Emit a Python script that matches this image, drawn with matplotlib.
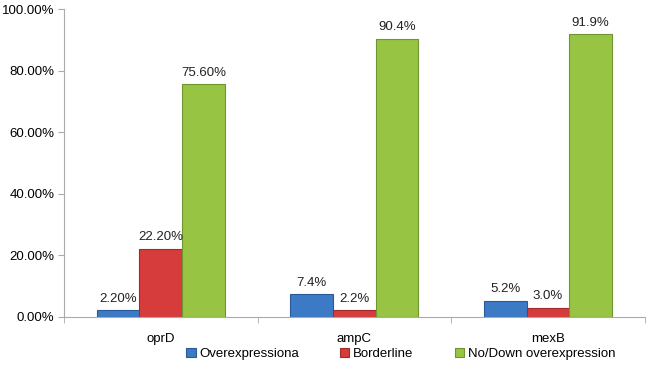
import matplotlib
matplotlib.use('Agg')
import matplotlib.pyplot as plt
import numpy as np

genes = ['oprD', 'ampC', 'mexB']
series = ['Overexpressiona', 'Borderline', 'No/Down overexpression']
overexp = [2.2, 7.4, 5.2]
borderline = [22.2, 2.2, 3.0]
nodown = [75.6, 90.4, 91.9]
labels_over = ['2.20%', '7.4%', '5.2%']
labels_border = ['22.20%', '2.2%', '3.0%']
labels_nodown = ['75.60%', '90.4%', '91.9%']

colors = ['#3c7ac6', '#d63c3c', '#97c443']
edges = ['#2a5a99', '#a12a2a', '#6f9430']

plt.rcParams['font.family'] = ['Liberation Sans', 'DejaVu Sans']
fig = plt.figure(figsize=(6.46, 3.65), dpi=100)
ax = fig.add_axes([0.099, 0.132, 0.899, 0.843])

x = np.arange(len(genes))
w = 0.22
fs = 9.5
data = [overexp, borderline, nodown]
texts = [labels_over, labels_border, labels_nodown]
for i in range(3):
    bars = ax.bar(x + (i - 1) * w, data[i], w, color=colors[i], edgecolor=edges[i],
                  linewidth=0.8, label=series[i])
    for b, t in zip(bars, texts[i]):
        ax.text(b.get_x() + b.get_width() / 2, b.get_height() + 1.8, t,
                ha='center', va='bottom', fontsize=fs, color='#222222')

ax.set_xlim(-0.5, 2.5)
ax.set_ylim(0, 100)
ax.set_yticks(np.arange(0, 101, 20))
ax.set_yticklabels(['%.2f%%' % v for v in np.arange(0, 101, 20)])
ax.set_xticks(x)
ax.set_xticklabels(genes)
ax.set_xticks([-0.5, 0.5, 1.5, 2.5], minor=True)
ax.tick_params(axis='x', which='major', length=0, pad=12, labelsize=fs)
ax.tick_params(axis='x', which='minor', length=4, color='#aaaaaa')
ax.tick_params(axis='y', length=4, color='#aaaaaa', labelsize=fs, pad=3)
for s in ['top', 'right']:
    ax.spines[s].set_visible(False)
for s in ['left', 'bottom']:
    ax.spines[s].set_color('#aaaaaa')

ax.legend(loc='center', bbox_to_anchor=(0.58, -0.121), ncol=3, frameon=False,
          fontsize=fs, handlelength=0.7, handleheight=0.7, handletextpad=0.3,
          columnspacing=3.1, borderpad=0)

fig.savefig('out.png', dpi=100)
